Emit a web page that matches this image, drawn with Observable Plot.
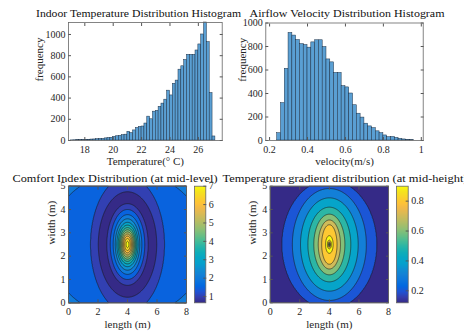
<!DOCTYPE html>
<html><head><meta charset="utf-8">
<script src="https://cdn.jsdelivr.net/npm/d3@7"></script>
<script src="https://cdn.jsdelivr.net/npm/@observablehq/plot@0.6"></script>
<style>
body{margin:0;background:#fff;}
#fig{position:relative;width:464px;height:333px;overflow:hidden;background:#fff;}
#fig svg{position:absolute;left:0;top:0;}
</style></head><body><div id="fig"></div>
<script>
// ---------------- data ----------------
const tempEdges = [17.0,17.2,17.4,17.6,17.8,18.0,18.2,18.4,18.6,18.8,19.0,19.2,19.4,19.6,19.8,20.0,20.2,20.4,20.6,20.8,21.0,21.2,21.4,21.6,21.8,22.0,22.2,22.4,22.6,22.8,23.0,23.2,23.4,23.6,23.8,24.0,24.2,24.4,24.6,24.8,25.0,25.2,25.4,25.6,25.8,26.0,26.2,26.4,26.6,26.8,27.0,27.2];
const tempCounts = [1,2,3,3,5,6,7,9,10,13,16,15,20,24,26,35,40,44,50,55,82,70,95,118,128,132,160,225,200,272,280,318,348,385,470,425,535,565,668,700,760,808,808,808,849,906,1000,1113,928,447,38];
const tempTicks = [18,20,22,24,26];
const freqTicks = [0,200,400,600,800,1000];

const velEdges = [0.24,0.26,0.28,0.30,0.32,0.34,0.36,0.38,0.40,0.42,0.44,0.46,0.48,0.50,0.52,0.54,0.56,0.58,0.60,0.62,0.64,0.66,0.68,0.70,0.72,0.74,0.76,0.78,0.80,0.82,0.84,0.86,0.88,0.90,0.92,0.94,0.96];
const velCounts = [62,318,610,915,893,855,820,812,790,835,853,853,795,690,665,575,575,462,452,400,300,228,195,143,120,105,78,62,43,28,30,22,14,9,6,3];
const velTicks = [0.2,0.4,0.6,0.8,1];

const lenTicks = [0,2,4,6,8];
const widTicks = [0,1,2,3,4,5];

// comfort index: nested elliptical contour rings (half-widths in m, value)
const comfortCenter = [4, 2.5];
const comfortRingRx = [0.001,0.10,0.19,0.27,0.34,0.41,0.48,0.55,0.63,0.72,0.83,0.97,1.17,1.40,1.68,1.98,2.50,5.34,8.0];
const comfortRingRy = [0.001,0.14,0.26,0.36,0.45,0.54,0.63,0.72,0.83,0.95,1.10,1.28,1.50,1.75,2.00,2.26,2.90,3.12,5.0];
const comfortRingV  = [7.25,7.0,6.5,6.0,5.5,5.0,4.5,4.0,3.5,3.0,2.5,2.0,1.5,1.0,0.66,1.0,1.5,2.0,2.3];
const comfortLevels = [0.6,1,1.5,2,2.5,3,3.5,4,4.5,5,5.5,6,6.5,7];
const comfortCbar = [0.66,7];
const comfortCbarTicks = [1,2,3,4,5,6,7];

// temperature gradient
const gradCenter = [4, 2.5];
const gradRingRx = [0.001,0.03,0.05,0.08,0.13,0.18,0.26,0.52,0.75,1.05,1.45,1.95,2.50,3.20,8.0];
const gradRingRy = [0.001,0.04,0.07,0.11,0.18,0.26,0.38,0.85,1.05,1.30,1.60,2.00,2.40,2.75,7.0];
const gradRingV  = [0.5,0.6,0.7,0.8,0.9,0.92,0.9,0.8,0.7,0.6,0.5,0.4,0.3,0.2,0.12];
const gradLevels = [0.1,0.2,0.3,0.4,0.5,0.6,0.7,0.8,0.9];
const gradCbar = [0.12,0.9];
const gradCbarTicks = [0.2,0.4,0.6,0.8];

const titles = [
  {text:"Indoor Temperature Distribution Histogram", x:36, y:16.5},
  {text:"Airflow Velocity Distribution Histogram", x:249.5, y:17},
  {text:"Comfort Index Distribution (at mid-level)", x:12.5, y:181.5},
  {text:"Temperature gradient distribution (at mid-height)", x:222.5, y:181.5}
];

// ---------------- styling ----------------
const parula = ["#352a87","#353dad","#2053d4","#0268e1","#0d75dc","#1481d6","#108ed2","#06a0cd","#06a7c6","#0faeb9","#25b5a9","#42bb98","#65be86","#87bf77","#a5be6b","#c0bc60","#d9ba56","#f1b94a","#ffc337","#fad32a","#f5e41d","#f9fb0e"];
const FONT = "'Liberation Serif', 'Times New Roman', serif";
const W = 464, H = 333;
const fig = document.getElementById("fig");

function parulaScale(dom) {
  const [a, b] = dom;
  return {type: "linear", domain: parula.map((_, i) => a + (b - a) * i / (parula.length - 1)), range: parula, clamp: true, interpolate: "rgb"};
}

function nestedEllipseField(c, rx, ry, v) {
  const n = rx.length;
  const lerp = (arr, s) => { const i = Math.min(Math.floor(s), n - 2); const t = s - i; return arr[i] + (arr[i + 1] - arr[i]) * t; };
  return (x, y) => {
    const dx = x - c[0], dy = y - c[1];
    const g = s => { const a = lerp(rx, s), b = lerp(ry, s); return (dx / a) ** 2 + (dy / b) ** 2; };
    if (g(n - 1) > 1) return v[n - 1];
    let lo = 0, hi = n - 1;
    for (let k = 0; k < 36; k++) { const m = (lo + hi) / 2; if (g(m) > 1) lo = m; else hi = m; }
    return lerp(v, (lo + hi) / 2);
  };
}

function frameAxes(xTicks, yTicks, xFmt, yFmt) {
  return [
    Plot.axisX(xTicks, {anchor: "bottom", tickSize: -3, tickPadding: 8, tickFormat: xFmt, label: null, stroke: "#555"}),
    Plot.axisX(xTicks, {anchor: "top", tickSize: -3, tickFormat: () => "", label: null, stroke: "#555"}),
    Plot.axisY(yTicks, {anchor: "left", tickSize: -3, tickPadding: 6, tickFormat: yFmt, label: null, stroke: "#555"}),
    Plot.axisY(yTicks, {anchor: "right", tickSize: -3, tickFormat: () => "", label: null, stroke: "#555"}),
    Plot.frame({stroke: "#666", strokeWidth: 0.8})
  ];
}
function labels(xl, yl, xdy, ydx) {
  return [
    Plot.text([xl], {text: d => d, frameAnchor: "bottom", dy: xdy, fontSize: 11, fill: "#262626"}),
    Plot.text([yl], {text: d => d, frameAnchor: "left", dx: ydx, rotate: -90, fontSize: 11, fill: "#262626"})
  ];
}
const baseStyle = {fontFamily: FONT, fontSize: "10px", color: "#262626", background: "none", overflow: "visible"};

function add(plot) { fig.appendChild(plot); }

// ---- panel 1: temperature histogram ----
const tempRows = tempCounts.map((c, i) => ({x1: tempEdges[i], x2: tempEdges[i + 1], y: c}));
add(Plot.plot({
  width: W, height: H, marginLeft: 68, marginRight: W - 221.7, marginTop: 22, marginBottom: H - 140,
  style: baseStyle,
  x: {domain: [16.85, 27.68]},
  y: {domain: [0, 1113]},
  marks: [
    Plot.rectY(tempRows, {x1: "x1", x2: "x2", y: "y", fill: "#5a9fd3", stroke: "#1b2f45", strokeWidth: 0.5}),
    ...frameAxes(tempTicks, freqTicks, "d", "d"),
    ...labels("Temperature(° C)", "frequency", 24, -29)
  ]
}));

// ---- panel 2: velocity histogram ----
const velRows = velCounts.map((c, i) => ({x1: velEdges[i], x2: velEdges[i + 1], y: c}));
add(Plot.plot({
  width: W, height: H, marginLeft: 265.3, marginRight: W - 422.7, marginTop: 22.5, marginBottom: H - 140,
  style: baseStyle,
  x: {domain: [0.18, 1.01]},
  y: {domain: [0, 1000]},
  marks: [
    Plot.rectY(velRows, {x1: "x1", x2: "x2", y: "y", fill: "#5a9fd3", stroke: "#1b2f45", strokeWidth: 0.5}),
    ...frameAxes(velTicks, freqTicks, "~g", "d"),
    ...labels("velocity(m/s)", "frequency", 24, -23)
  ]
}));

// ---- panel 3: comfort contour ----
const comfortField = nestedEllipseField(comfortCenter, comfortRingRx, comfortRingRy, comfortRingV);
add(Plot.plot({
  width: W, height: H, marginLeft: 68, marginRight: W - 186, marginTop: 185.7, marginBottom: H - 302.3,
  style: baseStyle,
  x: {domain: [0, 8]}, y: {domain: [0, 5]},
  color: parulaScale(comfortCbar),
  marks: [
    Plot.contour({x1: 0, y1: 0, x2: 8, y2: 5, value: comfortField, fill: "value", stroke: "#1a1a1a", strokeWidth: 0.6, thresholds: comfortLevels, pixelSize: 0.5}),
    ...frameAxes(lenTicks, widTicks),
    ...labels("length (m)", "width (m)", 25, -17)
  ]
}));
add(Plot.plot({
  width: W, height: H, marginLeft: 194, marginRight: W - 205.3, marginTop: 185.7, marginBottom: H - 302.3,
  style: baseStyle,
  x: {domain: [0, 1], axis: null}, y: {domain: comfortCbar, axis: null},
  color: parulaScale(comfortCbar),
  marks: [
    Plot.raster({x1: 0, x2: 1, y1: comfortCbar[0], y2: comfortCbar[1], fill: (x, y) => y, pixelSize: 1}),
    Plot.axisY(comfortCbarTicks, {anchor: "right", tickSize: -3, tickPadding: 6, label: null, stroke: "#555"}),
    Plot.frame({stroke: "#666", strokeWidth: 0.8})
  ]
}));

// ---- panel 4: gradient contour ----
const gradField = nestedEllipseField(gradCenter, gradRingRx, gradRingRy, gradRingV);
add(Plot.plot({
  width: W, height: H, marginLeft: 269.7, marginRight: W - 388, marginTop: 185.7, marginBottom: H - 302.3,
  style: baseStyle,
  x: {domain: [0, 8]}, y: {domain: [0, 5]},
  color: parulaScale(gradCbar),
  marks: [
    Plot.contour({x1: 0, y1: 0, x2: 8, y2: 5, value: gradField, fill: "value", stroke: "#1a1a1a", strokeWidth: 0.6, thresholds: gradLevels, pixelSize: 0.5}),
    ...frameAxes(lenTicks, widTicks),
    ...labels("length (m)", "width (m)", 25, -17.5)
  ]
}));
add(Plot.plot({
  width: W, height: H, marginLeft: 396, marginRight: W - 407.7, marginTop: 185.7, marginBottom: H - 302.3,
  style: baseStyle,
  x: {domain: [0, 1], axis: null}, y: {domain: gradCbar, axis: null},
  color: parulaScale(gradCbar),
  marks: [
    Plot.raster({x1: 0, x2: 1, y1: gradCbar[0], y2: gradCbar[1], fill: (x, y) => y, pixelSize: 1}),
    Plot.axisY(gradCbarTicks, {anchor: "right", tickSize: -3, tickPadding: 6, label: null, stroke: "#555"}),
    Plot.frame({stroke: "#666", strokeWidth: 0.8})
  ]
}));

// ---- titles ----
const tsvg = d3.create("svg").attr("width", W).attr("height", H).style("position", "absolute").style("left", 0).style("top", 0);
tsvg.selectAll("text").data(titles).join("text")
  .attr("x", d => d.x).attr("y", d => d.y)
  .attr("font-family", FONT).attr("font-size", 11).attr("fill", "#111")
  .attr("textLength", d => d.text.length * 5).attr("lengthAdjust", "spacingAndGlyphs")
  .text(d => d.text);
fig.appendChild(tsvg.node());
</script></body></html>
